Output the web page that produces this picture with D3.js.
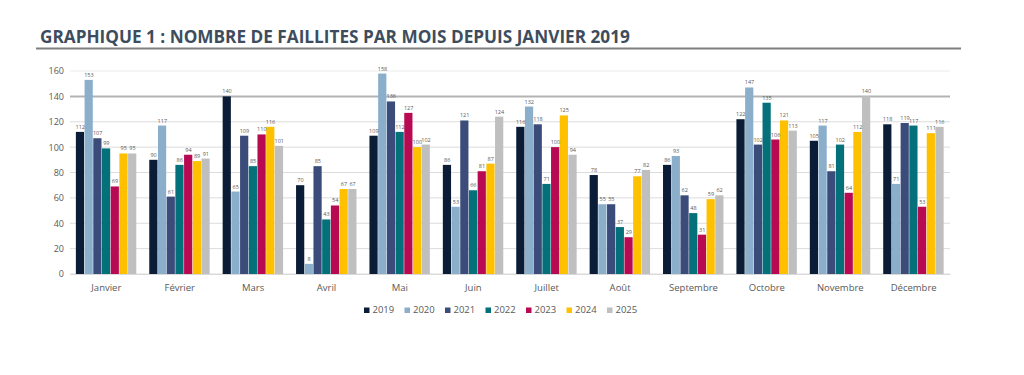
<!DOCTYPE html>
<html>
<head>
<meta charset="utf-8">
<script src="https://cdn.jsdelivr.net/npm/d3@7"></script>
<style>
  body { margin: 0; background: #fff; }
  svg { display: block; font-family: 'Open Sans', sans-serif; }
</style>
</head>
<body>
<svg width="1024" height="375"></svg>
<script>
// données
const mois = ['Janvier', 'Février', 'Mars', 'Avril', 'Mai', 'Juin', 'Juillet', 'Août', 'Septembre', 'Octobre', 'Novembre', 'Décembre'];
const annees = ['2019', '2020', '2021', '2022', '2023', '2024', '2025'];
const couleurs = ['#0a1c36', '#8bafcb', '#3b4c7a', '#03707a', '#b70a52', '#ffc000', '#bfbfbf'];
const v2019 = [112, 90, 140, 70, 109, 86, 116, 78, 86, 122, 105, 118];
const v2020 = [153, 117, 65, 8, 158, 53, 132, 55, 93, 147, 117, 71];
const v2021 = [107, 61, 109, 85, 136, 121, 118, 55, 62, 102, 81, 119];
const v2022 = [99, 86, 85, 43, 112, 66, 71, 37, 48, 135, 102, 117];
const v2023 = [69, 94, 110, 54, 127, 81, 100, 29, 31, 106, 64, 53];
const v2024 = [95, 89, 116, 67, 100, 87, 125, 77, 59, 121, 112, 111];
const v2025 = [95, 91, 101, 67, 102, 124, 94, 82, 62, 113, 140, 116];
const yTicks = [0, 20, 40, 60, 80, 100, 120, 140, 160];

const series = [v2019, v2020, v2021, v2022, v2023, v2024, v2025];

const svg = d3.select('svg');

// titre + filet
svg.append('text')
  .attr('x', 40).attr('y', 43)
  .text('GRAPHIQUE 1 : NOMBRE DE FAILLITES PAR MOIS DEPUIS JANVIER 2019')
  .attr('font-size', '17.2px')
  .attr('font-weight', 'bold')
  .attr('fill', '#3d4d5e');
svg.append('line')
  .attr('x1', 36).attr('x2', 961)
  .attr('y1', 48.5).attr('y2', 48.5)
  .attr('stroke', '#7f7f7f').attr('stroke-width', 2);

const x0 = d3.scaleBand().domain(mois).range([70, 950]).paddingInner(0.17).paddingOuter(0.08);
const x1 = d3.scaleBand().domain(annees).range([0, x0.bandwidth()]);
const y = d3.scaleLinear().domain([0, 160]).range([274, 71]);

// grille
const grid = svg.append('g');
grid.selectAll('line')
  .data(yTicks)
  .enter()
  .append('line')
  .attr('x1', 70).attr('x2', 950)
  .attr('y1', (d) => y(d)).attr('y2', (d) => y(d))
  .attr('stroke', (d) => (d === 140 ? '#b3b3b3' : d === 160 ? '#ececec' : '#dcdcdc'))
  .attr('stroke-width', (d) => (d === 140 ? 2 : 1));

// axe vertical
const yAxis = svg.append('g')
  .attr('transform', 'translate(70,0)')
  .call(d3.axisLeft(y).tickValues(yTicks).tickSize(0).tickPadding(6));
yAxis.select('.domain').remove();
yAxis.selectAll('text')
  .attr('font-size', '9px')
  .attr('fill', '#595959')
  .attr('font-family', "'Open Sans', sans-serif");

// axe horizontal
const xAxis = svg.append('g')
  .attr('transform', 'translate(0,274)')
  .call(d3.axisBottom(x0).tickSize(0).tickPadding(10));
xAxis.select('.domain').attr('stroke', '#d9d9d9');
xAxis.selectAll('text')
  .attr('font-size', '9.5px')
  .attr('fill', '#595959')
  .attr('font-family', "'Open Sans', sans-serif");

// barres
const groupes = svg.append('g')
  .selectAll('g')
  .data(mois)
  .enter()
  .append('g')
  .attr('transform', (m) => `translate(${x0(m)},0)`);

groupes.selectAll('rect')
  .data((m, i) => series.map((s, k) => ({ annee: annees[k], v: s[i], c: couleurs[k] })))
  .enter()
  .append('rect')
  .attr('x', (d) => x1(d.annee))
  .attr('width', x1.bandwidth() - 0.5)
  .attr('y', (d) => y(d.v))
  .attr('height', (d) => y(0) - y(d.v))
  .attr('fill', (d) => d.c);

groupes.selectAll('text')
  .data((m, i) => series.map((s, k) => ({ annee: annees[k], v: s[i] })))
  .enter()
  .append('text')
  .attr('x', (d) => x1(d.annee) + x1.bandwidth() / 2)
  .attr('y', (d) => y(d.v) - 3)
  .attr('text-anchor', 'middle')
  .attr('font-size', '5.5px')
  .attr('fill', '#595959')
  .text((d) => d.v);

// légende
const legende = svg.append('g').attr('transform', 'translate(364,313)');
const item = legende.selectAll('g')
  .data(annees)
  .enter()
  .append('g')
  .attr('transform', (d, i) => `translate(${i * 40.5},0)`);
item.append('rect')
  .attr('x', 0).attr('y', -5.5)
  .attr('width', 5.5).attr('height', 5.5)
  .attr('fill', (d, i) => couleurs[i]);
item.append('text')
  .attr('x', 8.5).attr('y', 0)
  .attr('font-size', '9.5px')
  .attr('fill', '#595959')
  .text((d) => d);
</script>
</body>
</html>
